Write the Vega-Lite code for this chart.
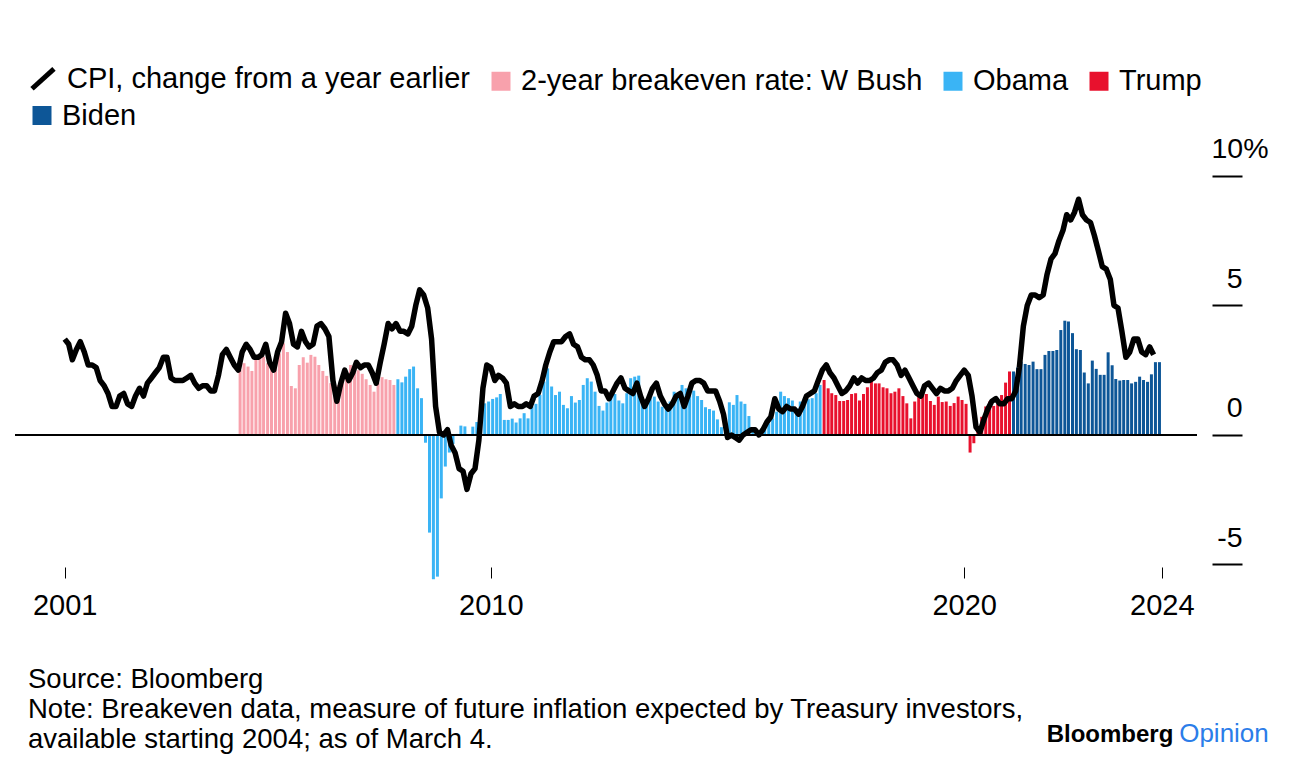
{
"$schema": "https://vega.github.io/schema/vega-lite/v6.json",
"width": 1182,
"height": 430,
"autosize": "none",
"padding": {"left": 15, "top": 150, "right": 99, "bottom": 198},
"background": "white",
"config": {"font": "Liberation Sans", "view": {"stroke": null}},
"title": {
  "text": ["Source: Bloomberg", "Note: Breakeven data, measure of future inflation expected by Treasury investors,", "available starting 2004; as of March 4."],
  "orient": "bottom", "anchor": "start", "frame": "group", "dx": 13, "offset": -81,
  "fontSize": 27.5, "fontWeight": "normal", "font": "Liberation Sans", "color": "black", "lineHeight": 30, "baseline": "top"
},
"datasets": {
"cpi": [
{"d":"2001-01","v":3.7},{"d":"2001-02","v":3.5},{"d":"2001-03","v":2.9},{"d":"2001-04","v":3.3},{"d":"2001-05","v":3.6},{"d":"2001-06","v":3.2},{"d":"2001-07","v":2.7},{"d":"2001-08","v":2.7},{"d":"2001-09","v":2.6},{"d":"2001-10","v":2.1},{"d":"2001-11","v":1.9},{"d":"2001-12","v":1.6},
{"d":"2002-01","v":1.1},{"d":"2002-02","v":1.1},{"d":"2002-03","v":1.5},{"d":"2002-04","v":1.6},{"d":"2002-05","v":1.2},{"d":"2002-06","v":1.1},{"d":"2002-07","v":1.5},{"d":"2002-08","v":1.8},{"d":"2002-09","v":1.5},{"d":"2002-10","v":2.0},{"d":"2002-11","v":2.2},{"d":"2002-12","v":2.4},
{"d":"2003-01","v":2.6},{"d":"2003-02","v":3.0},{"d":"2003-03","v":3.0},{"d":"2003-04","v":2.2},{"d":"2003-05","v":2.1},{"d":"2003-06","v":2.1},{"d":"2003-07","v":2.1},{"d":"2003-08","v":2.2},{"d":"2003-09","v":2.3},{"d":"2003-10","v":2.0},{"d":"2003-11","v":1.8},{"d":"2003-12","v":1.9},
{"d":"2004-01","v":1.9},{"d":"2004-02","v":1.7},{"d":"2004-03","v":1.7},{"d":"2004-04","v":2.3},{"d":"2004-05","v":3.1},{"d":"2004-06","v":3.3},{"d":"2004-07","v":3.0},{"d":"2004-08","v":2.7},{"d":"2004-09","v":2.5},{"d":"2004-10","v":3.2},{"d":"2004-11","v":3.5},{"d":"2004-12","v":3.3},
{"d":"2005-01","v":3.0},{"d":"2005-02","v":3.0},{"d":"2005-03","v":3.1},{"d":"2005-04","v":3.5},{"d":"2005-05","v":2.8},{"d":"2005-06","v":2.5},{"d":"2005-07","v":3.2},{"d":"2005-08","v":3.6},{"d":"2005-09","v":4.7},{"d":"2005-10","v":4.3},{"d":"2005-11","v":3.5},{"d":"2005-12","v":3.4},
{"d":"2006-01","v":4.0},{"d":"2006-02","v":3.6},{"d":"2006-03","v":3.4},{"d":"2006-04","v":3.5},{"d":"2006-05","v":4.2},{"d":"2006-06","v":4.3},{"d":"2006-07","v":4.1},{"d":"2006-08","v":3.8},{"d":"2006-09","v":2.1},{"d":"2006-10","v":1.3},{"d":"2006-11","v":2.0},{"d":"2006-12","v":2.5},
{"d":"2007-01","v":2.1},{"d":"2007-02","v":2.4},{"d":"2007-03","v":2.8},{"d":"2007-04","v":2.6},{"d":"2007-05","v":2.7},{"d":"2007-06","v":2.7},{"d":"2007-07","v":2.4},{"d":"2007-08","v":2.0},{"d":"2007-09","v":2.8},{"d":"2007-10","v":3.5},{"d":"2007-11","v":4.3},{"d":"2007-12","v":4.1},
{"d":"2008-01","v":4.3},{"d":"2008-02","v":4.0},{"d":"2008-03","v":4.0},{"d":"2008-04","v":3.9},{"d":"2008-05","v":4.2},{"d":"2008-06","v":5.0},{"d":"2008-07","v":5.6},{"d":"2008-08","v":5.4},{"d":"2008-09","v":4.9},{"d":"2008-10","v":3.7},{"d":"2008-11","v":1.1},{"d":"2008-12","v":0.1},
{"d":"2009-01","v":0.0},{"d":"2009-02","v":0.2},{"d":"2009-03","v":-0.4},{"d":"2009-04","v":-0.7},{"d":"2009-05","v":-1.3},{"d":"2009-06","v":-1.4},{"d":"2009-07","v":-2.1},{"d":"2009-08","v":-1.5},{"d":"2009-09","v":-1.3},{"d":"2009-10","v":-0.2},{"d":"2009-11","v":1.8},{"d":"2009-12","v":2.7},
{"d":"2010-01","v":2.6},{"d":"2010-02","v":2.1},{"d":"2010-03","v":2.3},{"d":"2010-04","v":2.2},{"d":"2010-05","v":2.0},{"d":"2010-06","v":1.1},{"d":"2010-07","v":1.2},{"d":"2010-08","v":1.1},{"d":"2010-09","v":1.1},{"d":"2010-10","v":1.2},{"d":"2010-11","v":1.1},{"d":"2010-12","v":1.5},
{"d":"2011-01","v":1.6},{"d":"2011-02","v":2.1},{"d":"2011-03","v":2.7},{"d":"2011-04","v":3.2},{"d":"2011-05","v":3.6},{"d":"2011-06","v":3.6},{"d":"2011-07","v":3.6},{"d":"2011-08","v":3.8},{"d":"2011-09","v":3.9},{"d":"2011-10","v":3.5},{"d":"2011-11","v":3.4},{"d":"2011-12","v":3.0},
{"d":"2012-01","v":2.9},{"d":"2012-02","v":2.9},{"d":"2012-03","v":2.7},{"d":"2012-04","v":2.3},{"d":"2012-05","v":1.7},{"d":"2012-06","v":1.7},{"d":"2012-07","v":1.4},{"d":"2012-08","v":1.7},{"d":"2012-09","v":2.0},{"d":"2012-10","v":2.2},{"d":"2012-11","v":1.8},{"d":"2012-12","v":1.7},
{"d":"2013-01","v":1.6},{"d":"2013-02","v":2.0},{"d":"2013-03","v":1.5},{"d":"2013-04","v":1.1},{"d":"2013-05","v":1.4},{"d":"2013-06","v":1.8},{"d":"2013-07","v":2.0},{"d":"2013-08","v":1.5},{"d":"2013-09","v":1.2},{"d":"2013-10","v":1.0},{"d":"2013-11","v":1.2},{"d":"2013-12","v":1.5},
{"d":"2014-01","v":1.6},{"d":"2014-02","v":1.1},{"d":"2014-03","v":1.5},{"d":"2014-04","v":2.0},{"d":"2014-05","v":2.1},{"d":"2014-06","v":2.1},{"d":"2014-07","v":2.0},{"d":"2014-08","v":1.7},{"d":"2014-09","v":1.7},{"d":"2014-10","v":1.7},{"d":"2014-11","v":1.3},{"d":"2014-12","v":0.8},
{"d":"2015-01","v":-0.1},{"d":"2015-02","v":0.0},{"d":"2015-03","v":-0.1},{"d":"2015-04","v":-0.2},{"d":"2015-05","v":0.0},{"d":"2015-06","v":0.1},{"d":"2015-07","v":0.2},{"d":"2015-08","v":0.2},{"d":"2015-09","v":0.0},{"d":"2015-10","v":0.2},{"d":"2015-11","v":0.5},{"d":"2015-12","v":0.7},
{"d":"2016-01","v":1.4},{"d":"2016-02","v":1.0},{"d":"2016-03","v":0.9},{"d":"2016-04","v":1.1},{"d":"2016-05","v":1.0},{"d":"2016-06","v":1.0},{"d":"2016-07","v":0.8},{"d":"2016-08","v":1.1},{"d":"2016-09","v":1.5},{"d":"2016-10","v":1.6},{"d":"2016-11","v":1.7},{"d":"2016-12","v":2.1},
{"d":"2017-01","v":2.5},{"d":"2017-02","v":2.7},{"d":"2017-03","v":2.4},{"d":"2017-04","v":2.2},{"d":"2017-05","v":1.9},{"d":"2017-06","v":1.6},{"d":"2017-07","v":1.7},{"d":"2017-08","v":1.9},{"d":"2017-09","v":2.2},{"d":"2017-10","v":2.0},{"d":"2017-11","v":2.2},{"d":"2017-12","v":2.1},
{"d":"2018-01","v":2.1},{"d":"2018-02","v":2.2},{"d":"2018-03","v":2.4},{"d":"2018-04","v":2.5},{"d":"2018-05","v":2.8},{"d":"2018-06","v":2.9},{"d":"2018-07","v":2.9},{"d":"2018-08","v":2.7},{"d":"2018-09","v":2.3},{"d":"2018-10","v":2.5},{"d":"2018-11","v":2.2},{"d":"2018-12","v":1.9},
{"d":"2019-01","v":1.6},{"d":"2019-02","v":1.5},{"d":"2019-03","v":1.9},{"d":"2019-04","v":2.0},{"d":"2019-05","v":1.8},{"d":"2019-06","v":1.6},{"d":"2019-07","v":1.8},{"d":"2019-08","v":1.7},{"d":"2019-09","v":1.7},{"d":"2019-10","v":1.8},{"d":"2019-11","v":2.1},{"d":"2019-12","v":2.3},
{"d":"2020-01","v":2.5},{"d":"2020-02","v":2.3},{"d":"2020-03","v":1.5},{"d":"2020-04","v":0.3},{"d":"2020-05","v":0.1},{"d":"2020-06","v":0.6},{"d":"2020-07","v":1.0},{"d":"2020-08","v":1.3},{"d":"2020-09","v":1.4},{"d":"2020-10","v":1.2},{"d":"2020-11","v":1.2},{"d":"2020-12","v":1.4},
{"d":"2021-01","v":1.4},{"d":"2021-02","v":1.7},{"d":"2021-03","v":2.6},{"d":"2021-04","v":4.2},{"d":"2021-05","v":5.0},{"d":"2021-06","v":5.4},{"d":"2021-07","v":5.4},{"d":"2021-08","v":5.3},{"d":"2021-09","v":5.4},{"d":"2021-10","v":6.2},{"d":"2021-11","v":6.8},{"d":"2021-12","v":7.0},
{"d":"2022-01","v":7.5},{"d":"2022-02","v":7.9},{"d":"2022-03","v":8.5},{"d":"2022-04","v":8.3},{"d":"2022-05","v":8.6},{"d":"2022-06","v":9.1},{"d":"2022-07","v":8.5},{"d":"2022-08","v":8.3},{"d":"2022-09","v":8.2},{"d":"2022-10","v":7.7},{"d":"2022-11","v":7.1},{"d":"2022-12","v":6.5},
{"d":"2023-01","v":6.4},{"d":"2023-02","v":6.0},{"d":"2023-03","v":5.0},{"d":"2023-04","v":4.9},{"d":"2023-05","v":4.0},{"d":"2023-06","v":3.0},{"d":"2023-07","v":3.2},{"d":"2023-08","v":3.7},{"d":"2023-09","v":3.7},{"d":"2023-10","v":3.2},{"d":"2023-11","v":3.1},{"d":"2023-12","v":3.4},
{"d":"2024-01","v":3.1}
],
"be": [
{"d":"2004-09-15","v":2.51,"p":"Bush"},{"d":"2004-10-15","v":2.77,"p":"Bush"},{"d":"2004-11-15","v":2.64,"p":"Bush"},{"d":"2004-12-15","v":2.47,"p":"Bush"},
{"d":"2005-01-15","v":2.9,"p":"Bush"},{"d":"2005-02-15","v":3.0,"p":"Bush"},{"d":"2005-03-15","v":3.02,"p":"Bush"},{"d":"2005-04-15","v":2.77,"p":"Bush"},{"d":"2005-05-15","v":2.57,"p":"Bush"},{"d":"2005-06-15","v":2.9,"p":"Bush"},{"d":"2005-07-15","v":3.15,"p":"Bush"},{"d":"2005-08-15","v":3.54,"p":"Bush"},{"d":"2005-09-15","v":3.2,"p":"Bush"},{"d":"2005-10-15","v":1.89,"p":"Bush"},{"d":"2005-11-15","v":1.8,"p":"Bush"},{"d":"2005-12-15","v":2.7,"p":"Bush"},
{"d":"2006-01-15","v":3.0,"p":"Bush"},{"d":"2006-02-15","v":2.79,"p":"Bush"},{"d":"2006-03-15","v":3.09,"p":"Bush"},{"d":"2006-04-15","v":3.02,"p":"Bush"},{"d":"2006-05-15","v":2.7,"p":"Bush"},{"d":"2006-06-15","v":2.47,"p":"Bush"},{"d":"2006-07-15","v":2.28,"p":"Bush"},{"d":"2006-08-15","v":2.0,"p":"Bush"},{"d":"2006-09-15","v":1.74,"p":"Bush"},{"d":"2006-10-15","v":1.93,"p":"Bush"},{"d":"2006-11-15","v":2.23,"p":"Bush"},{"d":"2006-12-15","v":2.4,"p":"Bush"},
{"d":"2007-01-15","v":2.7,"p":"Bush"},{"d":"2007-02-15","v":2.57,"p":"Bush"},{"d":"2007-03-15","v":2.5,"p":"Bush"},{"d":"2007-04-15","v":2.36,"p":"Bush"},{"d":"2007-05-15","v":2.15,"p":"Bush"},{"d":"2007-06-15","v":1.93,"p":"Bush"},{"d":"2007-07-15","v":1.67,"p":"Bush"},{"d":"2007-08-15","v":2.02,"p":"Bush"},{"d":"2007-09-15","v":2.23,"p":"Bush"},{"d":"2007-10-15","v":2.15,"p":"Bush"},{"d":"2007-11-15","v":2.12,"p":"Bush"},{"d":"2007-12-15","v":1.93,"p":"Bush"},
{"d":"2008-01-15","v":2.15,"p":"Obama"},{"d":"2008-02-15","v":2.03,"p":"Obama"},{"d":"2008-03-15","v":2.25,"p":"Obama"},{"d":"2008-04-15","v":2.54,"p":"Obama"},{"d":"2008-05-15","v":2.64,"p":"Obama"},{"d":"2008-06-15","v":1.8,"p":"Obama"},{"d":"2008-07-15","v":1.42,"p":"Obama"},{"d":"2008-08-15","v":-0.3,"p":"Obama"},{"d":"2008-09-15","v":-3.77,"p":"Obama"},{"d":"2008-10-15","v":-5.57,"p":"Obama"},{"d":"2008-11-15","v":-5.47,"p":"Obama"},{"d":"2008-12-15","v":-2.45,"p":"Obama"},
{"d":"2009-01-15","v":-1.22,"p":"Obama"},{"d":"2009-02-15","v":-0.68,"p":"Obama"},{"d":"2009-03-15","v":-0.35,"p":"Obama"},{"d":"2009-04-15","v":0.04,"p":"Obama"},{"d":"2009-05-15","v":0.36,"p":"Obama"},{"d":"2009-06-15","v":0.33,"p":"Obama"},{"d":"2009-07-15","v":0.02,"p":"Obama"},{"d":"2009-08-15","v":0.32,"p":"Obama"},{"d":"2009-09-15","v":0.5,"p":"Obama"},{"d":"2009-10-15","v":0.9,"p":"Obama"},{"d":"2009-11-15","v":1.22,"p":"Obama"},{"d":"2009-12-15","v":1.29,"p":"Obama"},
{"d":"2010-01-15","v":1.39,"p":"Obama"},{"d":"2010-02-15","v":1.45,"p":"Obama"},{"d":"2010-03-15","v":1.58,"p":"Obama"},{"d":"2010-04-15","v":0.58,"p":"Obama"},{"d":"2010-05-15","v":0.58,"p":"Obama"},{"d":"2010-06-15","v":0.63,"p":"Obama"},{"d":"2010-07-15","v":0.48,"p":"Obama"},{"d":"2010-08-15","v":0.64,"p":"Obama"},{"d":"2010-09-15","v":0.84,"p":"Obama"},{"d":"2010-10-15","v":0.64,"p":"Obama"},{"d":"2010-11-15","v":1.1,"p":"Obama"},{"d":"2010-12-15","v":1.2,"p":"Obama"},
{"d":"2011-01-15","v":1.54,"p":"Obama"},{"d":"2011-02-15","v":2.06,"p":"Obama"},{"d":"2011-03-15","v":2.57,"p":"Obama"},{"d":"2011-04-15","v":1.87,"p":"Obama"},{"d":"2011-05-15","v":1.54,"p":"Obama"},{"d":"2011-06-15","v":1.67,"p":"Obama"},{"d":"2011-07-15","v":1.16,"p":"Obama"},{"d":"2011-08-15","v":1.03,"p":"Obama"},{"d":"2011-09-15","v":1.5,"p":"Obama"},{"d":"2011-10-15","v":1.25,"p":"Obama"},{"d":"2011-11-15","v":1.35,"p":"Obama"},{"d":"2011-12-15","v":1.93,"p":"Obama"},
{"d":"2012-01-15","v":2.19,"p":"Obama"},{"d":"2012-02-15","v":2.06,"p":"Obama"},{"d":"2012-03-15","v":1.67,"p":"Obama"},{"d":"2012-04-15","v":1.12,"p":"Obama"},{"d":"2012-05-15","v":0.94,"p":"Obama"},{"d":"2012-06-15","v":1.25,"p":"Obama"},{"d":"2012-07-15","v":1.42,"p":"Obama"},{"d":"2012-08-15","v":1.58,"p":"Obama"},{"d":"2012-09-15","v":1.33,"p":"Obama"},{"d":"2012-10-15","v":1.22,"p":"Obama"},{"d":"2012-11-15","v":1.61,"p":"Obama"},{"d":"2012-12-15","v":2.19,"p":"Obama"},
{"d":"2013-01-15","v":2.25,"p":"Obama"},{"d":"2013-02-15","v":2.29,"p":"Obama"},{"d":"2013-03-15","v":1.42,"p":"Obama"},{"d":"2013-04-15","v":1.29,"p":"Obama"},{"d":"2013-05-15","v":1.42,"p":"Obama"},{"d":"2013-06-15","v":1.48,"p":"Obama"},{"d":"2013-07-15","v":1.29,"p":"Obama"},{"d":"2013-08-15","v":1.09,"p":"Obama"},{"d":"2013-09-15","v":1.03,"p":"Obama"},{"d":"2013-10-15","v":1.29,"p":"Obama"},{"d":"2013-11-15","v":1.67,"p":"Obama"},{"d":"2013-12-15","v":1.61,"p":"Obama"},
{"d":"2014-01-15","v":1.93,"p":"Obama"},{"d":"2014-02-15","v":1.8,"p":"Obama"},{"d":"2014-03-15","v":1.61,"p":"Obama"},{"d":"2014-04-15","v":1.71,"p":"Obama"},{"d":"2014-05-15","v":1.5,"p":"Obama"},{"d":"2014-06-15","v":1.35,"p":"Obama"},{"d":"2014-07-15","v":1.07,"p":"Obama"},{"d":"2014-08-15","v":1.0,"p":"Obama"},{"d":"2014-09-15","v":0.94,"p":"Obama"},{"d":"2014-10-15","v":0.6,"p":"Obama"},{"d":"2014-11-15","v":0.3,"p":"Obama"},{"d":"2014-12-15","v":0.1,"p":"Obama"},
{"d":"2015-01-15","v":1.26,"p":"Obama"},{"d":"2015-02-15","v":1.16,"p":"Obama"},{"d":"2015-03-15","v":1.54,"p":"Obama"},{"d":"2015-04-15","v":1.29,"p":"Obama"},{"d":"2015-05-15","v":1.2,"p":"Obama"},{"d":"2015-06-15","v":0.73,"p":"Obama"},{"d":"2015-07-15","v":0.15,"p":"Obama"},{"d":"2015-08-15","v":0.05,"p":"Obama"},{"d":"2015-09-15","v":0.1,"p":"Obama"},{"d":"2015-10-15","v":0.26,"p":"Obama"},{"d":"2015-11-15","v":0.45,"p":"Obama"},{"d":"2015-12-15","v":0.64,"p":"Obama"},
{"d":"2016-01-15","v":0.9,"p":"Obama"},{"d":"2016-02-15","v":1.67,"p":"Obama"},{"d":"2016-03-15","v":1.5,"p":"Obama"},{"d":"2016-04-15","v":1.42,"p":"Obama"},{"d":"2016-05-15","v":1.33,"p":"Obama"},{"d":"2016-06-15","v":1.03,"p":"Obama"},{"d":"2016-07-15","v":1.29,"p":"Obama"},{"d":"2016-08-15","v":1.42,"p":"Obama"},{"d":"2016-09-15","v":1.38,"p":"Obama"},{"d":"2016-10-15","v":1.42,"p":"Obama"},{"d":"2016-11-15","v":1.61,"p":"Obama"},{"d":"2016-12-15","v":1.93,"p":"Obama"},
{"d":"2017-01-15","v":2.12,"p":"Trump"},{"d":"2017-02-15","v":1.8,"p":"Trump"},{"d":"2017-03-15","v":1.61,"p":"Trump"},{"d":"2017-04-15","v":1.54,"p":"Trump"},{"d":"2017-05-15","v":1.31,"p":"Trump"},{"d":"2017-06-15","v":1.31,"p":"Trump"},{"d":"2017-07-15","v":1.35,"p":"Trump"},{"d":"2017-08-15","v":1.58,"p":"Trump"},{"d":"2017-09-15","v":1.61,"p":"Trump"},{"d":"2017-10-15","v":1.33,"p":"Trump"},{"d":"2017-11-15","v":1.58,"p":"Trump"},{"d":"2017-12-15","v":1.84,"p":"Trump"},
{"d":"2018-01-15","v":2.12,"p":"Trump"},{"d":"2018-02-15","v":1.99,"p":"Trump"},{"d":"2018-03-15","v":1.99,"p":"Trump"},{"d":"2018-04-15","v":1.84,"p":"Trump"},{"d":"2018-05-15","v":1.8,"p":"Trump"},{"d":"2018-06-15","v":1.61,"p":"Trump"},{"d":"2018-07-15","v":1.67,"p":"Trump"},{"d":"2018-08-15","v":1.8,"p":"Trump"},{"d":"2018-09-15","v":1.5,"p":"Trump"},{"d":"2018-10-15","v":1.22,"p":"Trump"},{"d":"2018-11-15","v":0.64,"p":"Trump"},{"d":"2018-12-15","v":1.29,"p":"Trump"},
{"d":"2019-01-15","v":1.54,"p":"Trump"},{"d":"2019-02-15","v":1.76,"p":"Trump"},{"d":"2019-03-15","v":1.58,"p":"Trump"},{"d":"2019-04-15","v":1.31,"p":"Trump"},{"d":"2019-05-15","v":1.16,"p":"Trump"},{"d":"2019-06-15","v":1.48,"p":"Trump"},{"d":"2019-07-15","v":1.27,"p":"Trump"},{"d":"2019-08-15","v":1.29,"p":"Trump"},{"d":"2019-09-15","v":1.12,"p":"Trump"},{"d":"2019-10-15","v":1.23,"p":"Trump"},{"d":"2019-11-15","v":1.48,"p":"Trump"},{"d":"2019-12-15","v":1.35,"p":"Trump"},
{"d":"2020-01-15","v":1.2,"p":"Trump"},{"d":"2020-02-15","v":-0.68,"p":"Trump"},{"d":"2020-03-15","v":-0.32,"p":"Trump"},{"d":"2020-04-15","v":0.3,"p":"Trump"},{"d":"2020-05-15","v":0.7,"p":"Trump"},{"d":"2020-06-15","v":1.1,"p":"Trump"},{"d":"2020-07-15","v":1.29,"p":"Trump"},{"d":"2020-08-15","v":1.12,"p":"Trump"},{"d":"2020-09-15","v":1.2,"p":"Trump"},{"d":"2020-10-15","v":1.54,"p":"Trump"},{"d":"2020-11-15","v":2.02,"p":"Trump"},{"d":"2020-12-15","v":2.45,"p":"Trump"},
{"d":"2021-01-15","v":2.45,"p":"Biden"},{"d":"2021-02-15","v":2.6,"p":"Biden"},{"d":"2021-03-15","v":2.83,"p":"Biden"},{"d":"2021-04-15","v":2.74,"p":"Biden"},{"d":"2021-05-15","v":2.7,"p":"Biden"},{"d":"2021-06-15","v":2.83,"p":"Biden"},{"d":"2021-07-15","v":2.54,"p":"Biden"},{"d":"2021-08-15","v":2.54,"p":"Biden"},{"d":"2021-09-15","v":3.09,"p":"Biden"},{"d":"2021-10-15","v":3.24,"p":"Biden"},{"d":"2021-11-15","v":3.24,"p":"Biden"},{"d":"2021-12-15","v":3.28,"p":"Biden"},
{"d":"2022-01-15","v":4.05,"p":"Biden"},{"d":"2022-02-15","v":4.41,"p":"Biden"},{"d":"2022-03-15","v":4.38,"p":"Biden"},{"d":"2022-04-15","v":3.93,"p":"Biden"},{"d":"2022-05-15","v":3.31,"p":"Biden"},{"d":"2022-06-15","v":3.28,"p":"Biden"},{"d":"2022-07-15","v":2.41,"p":"Biden"},{"d":"2022-08-15","v":1.99,"p":"Biden"},{"d":"2022-09-15","v":2.87,"p":"Biden"},{"d":"2022-10-15","v":2.55,"p":"Biden"},{"d":"2022-11-15","v":2.32,"p":"Biden"},{"d":"2022-12-15","v":2.32,"p":"Biden"},
{"d":"2023-01-15","v":3.19,"p":"Biden"},{"d":"2023-02-15","v":2.69,"p":"Biden"},{"d":"2023-03-15","v":2.16,"p":"Biden"},{"d":"2023-04-15","v":2.1,"p":"Biden"},{"d":"2023-05-15","v":2.12,"p":"Biden"},{"d":"2023-06-15","v":2.12,"p":"Biden"},{"d":"2023-07-15","v":1.99,"p":"Biden"},{"d":"2023-08-15","v":2.05,"p":"Biden"},{"d":"2023-09-15","v":2.25,"p":"Biden"},{"d":"2023-10-15","v":2.12,"p":"Biden"},{"d":"2023-11-15","v":2.05,"p":"Biden"},{"d":"2023-12-15","v":2.34,"p":"Biden"},
{"d":"2024-01-15","v":2.81,"p":"Biden"},{"d":"2024-02-15","v":2.81,"p":"Biden"}
]
},
"layer": [
{
  "data": {"name": "be"},
  "mark": {"type": "bar", "width": 3},
  "encoding": {
    "x": {"field": "d", "type": "temporal",
      "scale": {"domain": [{"year": 2000, "month": 1, "date": 22}, {"year": 2024, "month": 10, "date": 23}]},
      "axis": {"values": [{"year": 2001, "month": 1, "date": 1}, {"year": 2010, "month": 1, "date": 1}, {"year": 2020, "month": 1, "date": 1}, {"year": 2024, "month": 3, "date": 4}],
        "format": "%Y", "domain": false, "grid": false, "offset": -13, "tickSize": 11, "tickWidth": 1, "tickColor": "black",
        "labelFontSize": 29, "labelColor": "black", "labelFont": "Liberation Sans", "labelPadding": 13, "labelFlush": false, "title": null}},
    "y": {"field": "v", "type": "quantitative",
      "scale": {"domain": [-5.6, 11], "nice": false, "zero": false},
      "axis": {"orient": "right", "values": [-5, 0, 5, 10], "domain": false, "grid": false, "offset": 15, "tickSize": 30, "tickWidth": 2, "tickColor": "black",
        "labelAlign": "right", "labelBaseline": "alphabetic", "labelOffset": -18,
        "labelPadding": {"condition": {"test": "datum.value == 10", "value": 26}, "value": 0},
        "labelFontSize": 28.5, "labelColor": "black", "labelFont": "Liberation Sans",
        "labelExpr": "datum.value == 10 ? '10%' : datum.value == -5 ? '-5' : datum.label", "title": null}},
    "color": {"field": "p", "type": "nominal",
      "scale": {"domain": ["CPI", "Bush", "Obama", "Trump", "Biden"], "range": ["#000000", "#f8a1ac", "#3ab4f5", "#e8112d", "#0d5697"]},
      "legend": {"orient": "none", "legendX": 12.5, "legendY": -86, "columns": 4, "direction": "horizontal", "title": null, "padding": 0,
        "values": ["CPI", "Bush", "Obama", "Trump", "Biden"],
        "labelFontSize": 29, "labelFont": "Liberation Sans", "labelColor": "black", "labelLimit": 800,
        "symbolSize": 361, "symbolType": "square", "labelOffset": 5.5, "columnPadding": 16, "rowPadding": 2,
        "labelExpr": "datum.value == 'CPI' ? 'CPI, change from a year earlier' : datum.value == 'Bush' ? '2-year breakeven rate: W Bush' : datum.label",
        "encode": {
          "symbols": {"update": {
            "shape": {"signal": "datum.value == 'CPI' ? 'M-1.05,1.05L1.26,-1.05' : 'square'"},
            "stroke": {"value": "black"},
            "strokeWidth": {"signal": "datum.value == 'CPI' ? 5 : 0"},
            "fill": {"signal": "datum.value == 'CPI' ? 'transparent' : scale('color', datum.value)"},
            "opacity": {"value": 1}
          }},
          "labels": {"update": {"dx": {"signal": "datum.value == 'CPI' ? 5 : 0"}}}
        }}}
  }
},
{
  "data": {"values": [{}]},
  "mark": {"type": "rule", "color": "black", "strokeWidth": 2},
  "encoding": {"y": {"datum": 0}}
},
{
  "data": {"name": "cpi"},
  "mark": {"type": "line", "strokeWidth": 5.5, "strokeJoin": "round"},
  "encoding": {
    "x": {"field": "d", "type": "temporal"},
    "y": {"field": "v", "type": "quantitative"},
    "color": {"datum": "CPI", "scale": {"domain": ["CPI", "Bush", "Obama", "Trump", "Biden"], "range": ["#000000", "#f8a1ac", "#3ab4f5", "#e8112d", "#0d5697"]}}
  }
},
{
  "data": {"values": [{}]},
  "mark": {"type": "text", "text": "Bloomberg", "fontWeight": "bold", "fontSize": 24, "font": "Liberation Sans", "align": "right", "baseline": "alphabetic", "color": "black"},
  "encoding": {"x": {"datum": {"year": 2024, "month": 6, "date": 1}, "type": "temporal"}, "y": {"datum": -11.85}}
},
{
  "data": {"values": [{}]},
  "mark": {"type": "text", "text": "Opinion", "fontSize": 26, "font": "Liberation Sans", "align": "left", "baseline": "alphabetic", "color": "#2b7de9"},
  "encoding": {"x": {"datum": {"year": 2024, "month": 7, "date": 16}, "type": "temporal"}, "y": {"datum": -11.85}}
}
]
}
